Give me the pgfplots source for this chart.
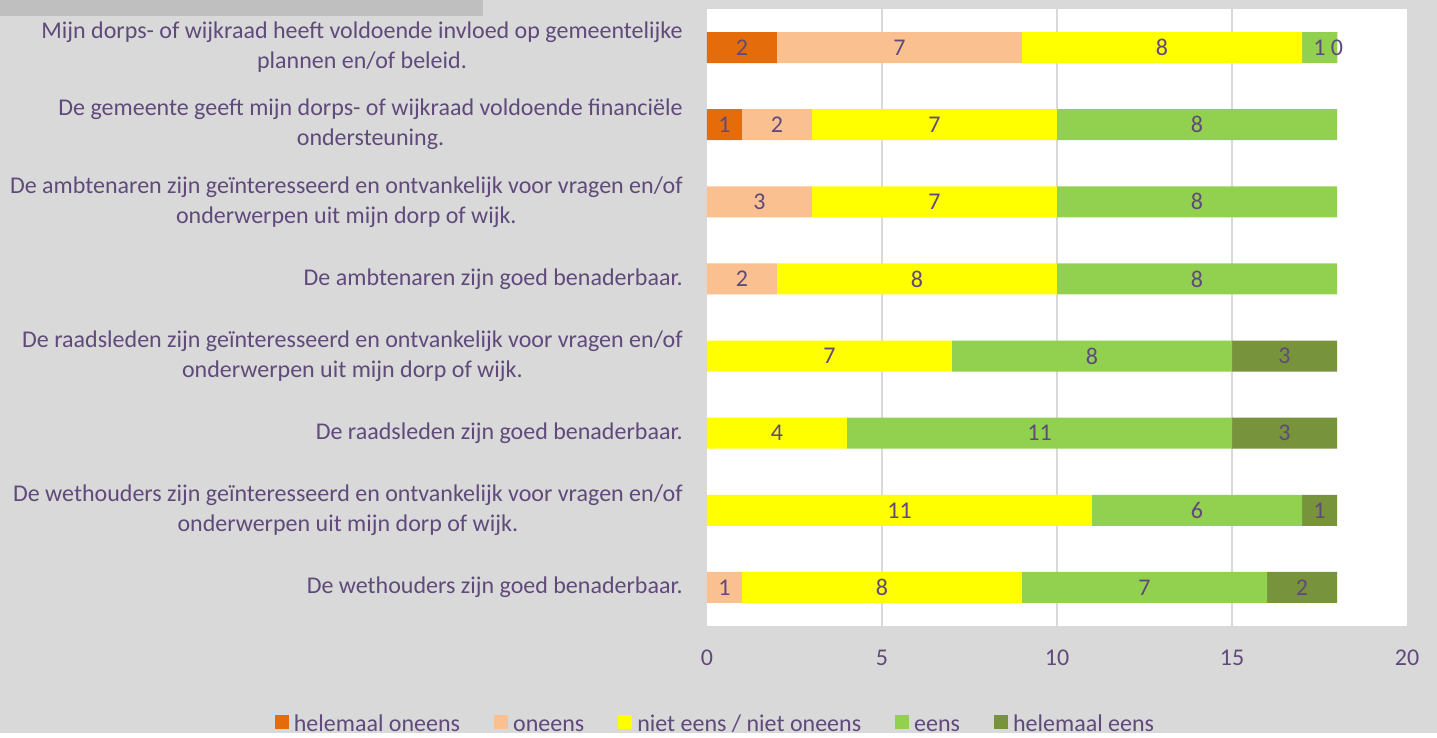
\documentclass[border=0pt]{standalone}
\usepackage{fontspec}
\setmainfont{Carlito}
\usepackage{pgfplots}
\pgfplotsset{compat=1.18}
\usepackage{pgfplotstable}
\definecolor{txt}{HTML}{604A7B}
\definecolor{bgc}{HTML}{D9D9D9}
\definecolor{titlebg}{HTML}{BFBFBF}
\definecolor{gridc}{HTML}{D9D9D9}
\definecolor{cA}{HTML}{E46C0A}
\definecolor{cB}{HTML}{FAC090}
\definecolor{cC}{HTML}{FFFF00}
\definecolor{cD}{HTML}{92D050}
\definecolor{cE}{HTML}{77933C}
% e: helemaal eens (0.0001 stands for 0 so that its label "0" is drawn)
\pgfplotstableread{
y a b c d e em
0 2 7 8 1 0.0001 0
1 1 2 7 8 0 -1
2 0 3 7 8 0 -1
3 0 2 8 8 0 -1
4 0 0 7 8 3 3
5 0 0 4 11 3 3
6 0 0 11 6 1 1
7 0 1 8 7 2 2
}\datatable
\pgfplotsset{
  seg/.style 2 args={
    visualization depends on={\thisrow{#1} \as \segval},
    visualization depends on={\thisrow{#2} \as \segshow},
  },
}
\newcommand\labA{\ifdim\segshow pt=0pt\else\pgfmathprintnumber{\segshow}\fi}
\newcommand\labE{\ifdim\segshow pt<0pt\else\pgfmathprintnumber{\segshow}\fi}
\begin{document}
\begin{tikzpicture}
\fill[bgc] (0,0) rectangle (718.5pt,366.5pt);
\fill[titlebg] (0,358.5pt) rectangle (241.5pt,366.5pt);
\begin{axis}[
  scale only axis, width=350pt, height=308.5pt,
  at={(353.5pt,53.5pt)}, anchor=south west,
  /pgf/number format/assume math mode=true,
  xbar stacked, bar width=15.5pt,
  xmin=0, xmax=20, ymin=-0.5, ymax=7.5, y dir=reverse,
  xtick={0,5,10,15,20}, ytick={0,...,7},
  extra x ticks={5,10,15}, extra x tick labels={},
  extra x tick style={xmajorgrids=true, grid style={color=gridc, line width=0.8pt}},
  axis background/.style={fill=white},
  axis line style={draw=none},
  major tick length=0pt,
  tick label style={font=\fontsize{12}{15}\selectfont, text=txt},
  xticklabel style={anchor=north, inner sep=0pt, yshift=-12pt},
  yticklabel style={align=center, anchor=east, inner sep=0pt, xshift=-12pt},
  yticklabels={
    {Mijn dorps- of wijkraad heeft voldoende invloed op gemeentelijke\\plannen en/of beleid.},
    {De gemeente geeft mijn dorps- of wijkraad voldoende financiële\\ondersteuning.},
    {De ambtenaren zijn geïnteresseerd en ontvankelijk voor vragen en/of\\onderwerpen uit mijn dorp of wijk.},
    {De ambtenaren zijn goed benaderbaar.},
    {De raadsleden zijn geïnteresseerd en ontvankelijk voor vragen en/of\\onderwerpen uit mijn dorp of wijk.},
    {De raadsleden zijn goed benaderbaar.},
    {De wethouders zijn geïnteresseerd en ontvankelijk voor vragen en/of\\onderwerpen uit mijn dorp of wijk.},
    {De wethouders zijn goed benaderbaar.}
  },
  every node near coord/.append style={font=\fontsize{12}{15}\selectfont, text=txt,
     anchor=center},
  legend columns=5,
  legend style={draw=none, fill=none, at={(0.0107,-0.1556)}, anchor=center,
    font=\fontsize{12}{15}\selectfont, text=txt,
    /tikz/every odd column/.append style={column sep=2.5pt},
    /tikz/every even column/.append style={column sep=17pt},
    nodes={inner sep=0pt}},
  legend image code/.code={\fill[#1,draw=none] (0pt,-3.5pt) rectangle (7pt,3.5pt);},
]
\addplot[fill=cA, draw=none, seg={a}{a}, nodes near coords=\labA] table[x=a, y=y] {\datatable};
\addplot[fill=cB, draw=none, seg={b}{b}, nodes near coords=\labA] table[x=b, y=y] {\datatable};
\addplot[fill=cC, draw=none, seg={c}{c}, nodes near coords=\labA] table[x=c, y=y] {\datatable};
\addplot[fill=cD, draw=none, seg={d}{d}, nodes near coords=\labA] table[x=d, y=y] {\datatable};
\addplot[fill=cE, draw=none, seg={e}{em}, nodes near coords=\labE] table[x=e, y=y] {\datatable};
\legend{\strut helemaal oneens, \strut oneens, \strut niet eens / niet oneens, \strut eens, \strut helemaal eens}
\end{axis}
\end{tikzpicture}
\end{document}
